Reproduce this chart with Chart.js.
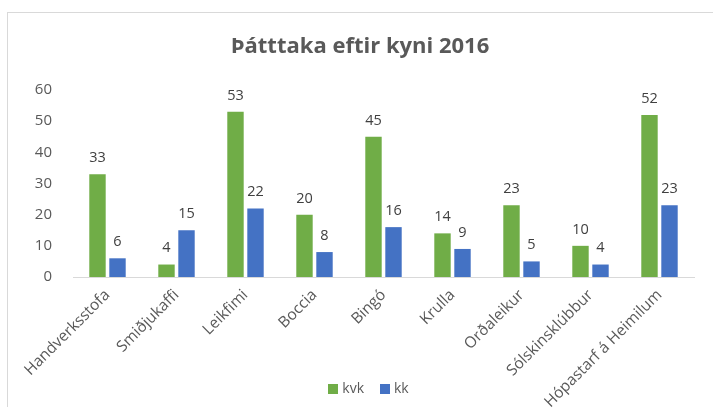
<!DOCTYPE html>
<html>
<head>
<meta charset="utf-8">
<script src="https://cdn.jsdelivr.net/npm/chart.js@4.4.1/dist/chart.umd.min.js"></script>
<style>
    body { margin: 0; background: #fff; font-family: "Open Sans", sans-serif; }
    #wrap { position: relative; width: 713px; height: 407px; overflow: hidden; }
    #frame { position: absolute; left: 7px; top: 12px; width: 760px; height: 460px; border: 1px solid #d9d9d9; }
    #title { position: absolute; top: 29px; left: 0; width: 720px; text-align: center; font-size: 22px; line-height: 30px; font-weight: bold; color: #595959; }
    #legend { position: absolute; top: 378px; left: 12px; width: 713px; text-align: center; font-size: 14px; color: #595959; }
    #legend span.box { display: inline-block; width: 10px; height: 10px; margin-right: 4px; vertical-align: middle; }
    #legend span.item { margin: 0 8px; }
</style>
</head>
<body>
<div id="wrap">
    <div id="frame"></div>
    <canvas id="chart" width="713" height="407" style="position:absolute;left:0;top:0;"></canvas>
    <div id="title">Þátttaka eftir kyni 2016</div>
    <div id="legend"></div>
</div>
<script>
// ---------- Data ----------

const categories = ["Handverksstofa", "Smiðjukaffi", "Leikfimi", "Boccia", "Bingó", "Krulla", "Orðaleikur", "Sólskinsklúbbur", "Hópastarf á Heimilum"];

const kvk = [33, 4, 53, 20, 45, 14, 23, 10, 52];

const kk = [6, 15, 22, 8, 16, 9, 5, 4, 23];

const yTicks = [0, 10, 20, 30, 40, 50, 60];

const green = "#70ad47";
const blue = "#4472c4";
const textColor = "#595959";

// -------- Value labels above bars --------

const valueLabels = {
    id: "valueLabels",
    afterDatasetsDraw(chart) {
        const ctx = chart.ctx;
        ctx.save();
        ctx.font = "14.5px 'Open Sans', sans-serif";
        ctx.fillStyle = "#404040";
        ctx.textAlign = "center";
        ctx.textBaseline = "bottom";
        chart.data.datasets.forEach((ds, i) => {
            chart.getDatasetMeta(i).data.forEach((bar, j) => {
                ctx.fillText(ds.data[j], bar.x, bar.y - 9);
            });
        });
        ctx.restore();
    }
};

// -------- Chart --------

new Chart(document.getElementById("chart"), {

    type: "bar",

    data: {
        labels: categories,
        datasets: [
            { label: "kvk", data: kvk, backgroundColor: green, categoryPercentage: 0.58, barPercentage: 0.82 },
            { label: "kk", data: kk, backgroundColor: blue, categoryPercentage: 0.58, barPercentage: 0.82 }
        ]
    },

    options: {

        responsive: false,

        animation: false,

        layout: {
            padding: { left: 0, right: 19, top: 90, bottom: 0 }
        },

        plugins: {
            legend: { display: false },
            tooltip: { enabled: false },
            title: { display: false }
        },

        scales: {

            x: {
                grid: { display: false },
                border: { color: "#d9d9d9" },
                ticks: {
                    color: textColor,
                    font: { family: "'Open Sans', sans-serif", size: 15.5 },
                    minRotation: 45,
                    maxRotation: 45,
                    autoSkip: false,
                    padding: 1
                },
                afterFit(scale) { scale.height = 130; }
            },

            y: {
                min: 0,
                max: 60,
                grid: { display: false },
                border: { display: false },
                afterBuildTicks(scale) { scale.ticks = yTicks.map(v => ({ value: v })); },
                ticks: {
                    color: textColor,
                    font: { family: "'Open Sans', sans-serif", size: 15 },
                    padding: 13
                },
                afterFit(scale) { scale.width = 73; }
            }

        }

    },

    plugins: [valueLabels]

});

// -------- Legend --------

document.getElementById("legend").innerHTML =
    '<span class="item"><span class="box" style="background:' + green + '"></span>kvk</span>' +
    '<span class="item"><span class="box" style="background:' + blue + '"></span>kk</span>';
</script>
</body>
</html>
